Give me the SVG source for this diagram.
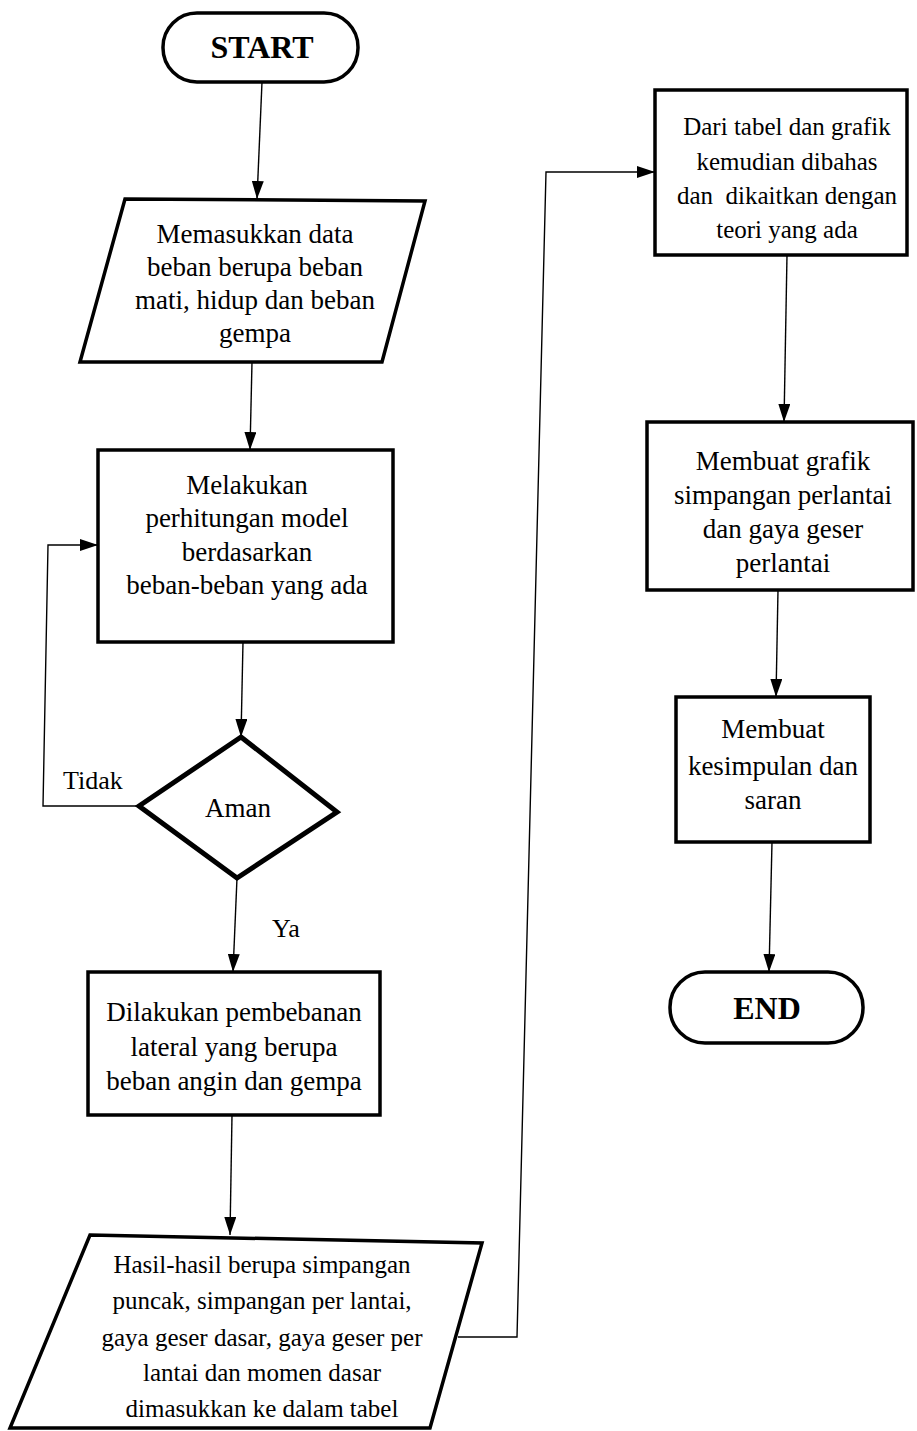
<svg xmlns="http://www.w3.org/2000/svg" width="917" height="1431" viewBox="0 0 917 1431">
<defs>
<style>
.shape{fill:#fff;stroke:#000;stroke-width:3.5;stroke-linejoin:miter}
.dia{fill:#fff;stroke:#000;stroke-width:5}
.conn{fill:none;stroke:#000;stroke-width:1.4}
.t{font-family:"Liberation Serif","Times New Roman",serif;font-size:27px;fill:#000;text-anchor:middle}
.s{font-size:25px}
.tb{font-family:"Liberation Serif","Times New Roman",serif;font-size:32px;font-weight:bold;fill:#000;text-anchor:middle}
.lbl{font-family:"Liberation Serif","Times New Roman",serif;font-size:26px;fill:#000}
</style>
<marker id="arr" viewBox="0 0 18 12" refX="18" refY="6" markerWidth="18" markerHeight="12" orient="auto" markerUnits="userSpaceOnUse"><path d="M0,0 L18,6 L0,12 z" fill="#000"/></marker>
</defs>
<rect width="917" height="1431" fill="#fff"/>
<g id="connectors">
<path class="conn" marker-end="url(#arr)" d="M262,82 L257,199"/>
<path class="conn" marker-end="url(#arr)" d="M252,362 L250,450"/>
<path class="conn" marker-end="url(#arr)" d="M243,642 L241,737"/>
<path class="conn" marker-end="url(#arr)" d="M140,806 L43,806 L48,545 L98,545"/>
<path class="conn" marker-end="url(#arr)" d="M237,878 L233,972"/>
<path class="conn" marker-end="url(#arr)" d="M232,1115 L230,1235"/>
<path class="conn" marker-end="url(#arr)" d="M458,1337 L517,1337 L546,172 L655,172"/>
<path class="conn" marker-end="url(#arr)" d="M787,255 L784,422"/>
<path class="conn" marker-end="url(#arr)" d="M778,590 L776,697"/>
<path class="conn" marker-end="url(#arr)" d="M772,842 L769,972"/>
</g>
<g id="start">
<rect class="shape" x="163" y="13" width="195" height="69" rx="34" ry="34"/>
<text class="tb" x="262" y="58">START</text>
</g>
<g id="input-data">
<polygon class="shape" points="125,199 425,201 382,362 80,362"/>
<text class="t" x="255" y="243">Memasukkan data</text>
<text class="t" x="255" y="276">beban berupa beban</text>
<text class="t" x="255" y="309">mati, hidup dan beban</text>
<text class="t" x="255" y="342">gempa</text>
</g>
<g id="hitung">
<rect class="shape" x="98" y="450" width="295" height="192"/>
<text class="t" x="247" y="494">Melakukan</text>
<text class="t" x="247" y="527">perhitungan model</text>
<text class="t" x="247" y="561">berdasarkan</text>
<text class="t" x="247" y="594">beban-beban yang ada</text>
</g>
<g id="aman">
<polygon class="dia" points="241,737 337,812 237,878 139,806"/>
<text class="t" x="238" y="817">Aman</text>
</g>
<text class="lbl" x="63" y="789">Tidak</text>
<text class="lbl" x="272" y="937">Ya</text>
<g id="lateral">
<rect class="shape" x="88" y="972" width="292" height="143"/>
<text class="t" x="234" y="1021">Dilakukan pembebanan</text>
<text class="t" x="234" y="1056">lateral yang berupa</text>
<text class="t" x="234" y="1090">beban angin dan gempa</text>
</g>
<g id="hasil">
<polygon class="shape" points="90,1235 482,1243 430,1428 10,1428"/>
<text class="t s" x="262" y="1273">Hasil-hasil berupa simpangan</text>
<text class="t s" x="262" y="1309">puncak, simpangan per lantai,</text>
<text class="t s" x="262" y="1346">gaya geser dasar, gaya geser per</text>
<text class="t s" x="262" y="1381">lantai dan momen dasar</text>
<text class="t s" x="262" y="1417">dimasukkan ke dalam tabel</text>
</g>
<g id="bahas">
<rect class="shape" x="655" y="90" width="252" height="165"/>
<text class="t s" x="787" y="135">Dari tabel dan grafik</text>
<text class="t s" x="787" y="170">kemudian dibahas</text>
<text class="t s" x="787" y="204" xml:space="preserve">dan  dikaitkan dengan</text>
<text class="t s" x="787" y="238">teori yang ada</text>
</g>
<g id="grafik">
<rect class="shape" x="647" y="422" width="266" height="168"/>
<text class="t" x="783" y="470">Membuat grafik</text>
<text class="t" x="783" y="504">simpangan perlantai</text>
<text class="t" x="783" y="538">dan gaya geser</text>
<text class="t" x="783" y="572">perlantai</text>
</g>
<g id="kesimpulan">
<rect class="shape" x="676" y="697" width="194" height="145"/>
<text class="t" x="773" y="738">Membuat</text>
<text class="t" x="773" y="775">kesimpulan dan</text>
<text class="t" x="773" y="809">saran</text>
</g>
<g id="end">
<rect class="shape" x="670" y="972" width="193" height="71" rx="35" ry="35"/>
<text class="tb" x="767" y="1019">END</text>
</g>
</svg>
